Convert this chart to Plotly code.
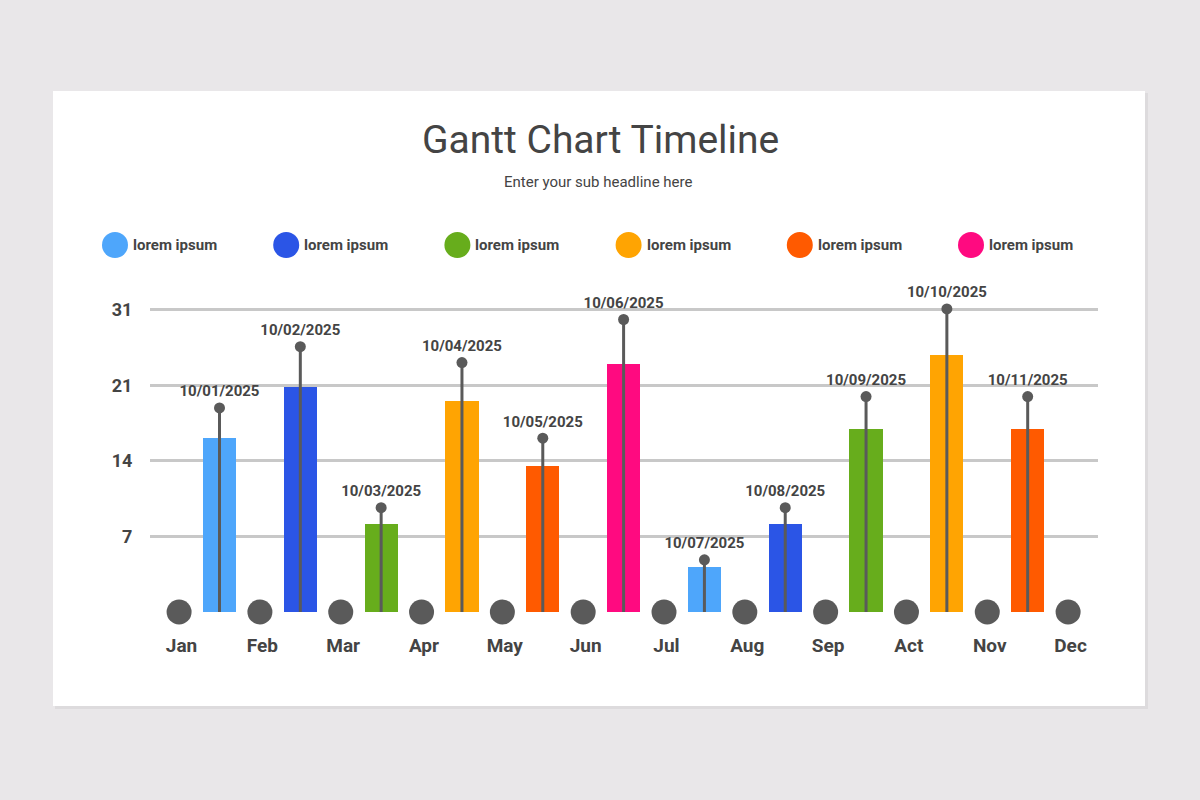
import plotly.graph_objects as go

# ---- data ----
months = ["Jan", "Feb", "Mar", "Apr", "May", "Jun", "Jul", "Aug", "Sep", "Act", "Nov", "Dec"]
y_tick_labels = ["", "7", "14", "21", "31"]
bar_values = [2.30, 2.98, 1.17, 2.79, 1.93, 3.28, 0.60, 1.17, 2.42, 3.40, 2.42]
pin_values = [2.70, 3.51, 1.38, 3.30, 2.30, 3.87, 0.69, 1.38, 2.85, 4.01, 2.85]
dates = ["10/01/2025", "10/02/2025", "10/03/2025", "10/04/2025", "10/05/2025", "10/06/2025",
         "10/07/2025", "10/08/2025", "10/09/2025", "10/10/2025", "10/11/2025"]
palette = ["#4ea6fb", "#2b55e6", "#67ad1c", "#ffa402", "#ff5a00", "#ff0a80"]
bar_colors = ["#4ea6fb", "#2b55e6", "#67ad1c", "#ffa402", "#ff5a00", "#ff0a80",
              "#4ea6fb", "#2b55e6", "#67ad1c", "#ffa402", "#ff5a00"]
legend_labels = ["lorem ipsum"] * 6
title = "Gantt Chart Timeline"
subtitle = "Enter your sub headline here"

FONT = "Roboto"
DARK = "#444444"
PIN = "#5a5a5a"
BG = "#e9e7e9"

bar_x = [i + 0.5 for i in range(len(bar_values))]
month_x = list(range(len(months)))

fig = go.Figure()

fig.add_trace(go.Bar(
    x=bar_x, y=bar_values, width=0.41,
    marker=dict(color=bar_colors, line=dict(width=0)),
    hoverinfo="skip", showlegend=False,
))

# pin stems
sx, sy = [], []
for x, v in zip(bar_x, pin_values):
    sx += [x, x, None]
    sy += [0, v, None]
fig.add_trace(go.Scatter(
    x=sx, y=sy, mode="lines", line=dict(color=PIN, width=3),
    hoverinfo="skip", showlegend=False, cliponaxis=False,
))
# pin heads + date labels
fig.add_trace(go.Scatter(
    x=bar_x, y=pin_values, mode="markers+text",
    marker=dict(color=PIN, size=11),
    text=dates, textposition="top center",
    textfont=dict(family=FONT, size=15, color=DARK, weight="bold"),
    hoverinfo="skip", showlegend=False, cliponaxis=False,
))
# month circles on the baseline
fig.add_trace(go.Scatter(
    x=month_x, y=[0] * len(months), mode="markers",
    marker=dict(color=PIN, size=25),
    hoverinfo="skip", showlegend=False, cliponaxis=False,
))

# plot area: x px 150..1098, y px 287..612
L, R, T, B = 150, 1200 - 1098, 287, 800 - 612
W, H = 1200 - L - R, 800 - T - B

def px(xp):
    return (xp - L) / W

def py(yp):
    return (800 - B - yp) / H

shapes = [
    # card shadow
    dict(type="rect", xref="paper", yref="paper", layer="below",
         x0=px(55), x1=px(1148), y0=py(93), y1=py(709),
         fillcolor="#dddbdd", line=dict(width=0)),
    dict(type="rect", xref="paper", yref="paper", layer="below",
         x0=px(53), x1=px(1145), y0=py(91), y1=py(706),
         fillcolor="#ffffff", line=dict(width=0)),
]

annotations = [
    dict(text=title, x=px(600), y=py(140), xref="paper", yref="paper",
         showarrow=False, font=dict(family=FONT, size=39, color=DARK),
         xanchor="center", yanchor="middle"),
    dict(text=subtitle, x=px(598), y=py(182), xref="paper", yref="paper",
         showarrow=False, font=dict(family=FONT, size=15, color=DARK),
         xanchor="center", yanchor="middle"),
]

# legend
for i, (c, lab) in enumerate(zip(palette, legend_labels)):
    cx = 115 + i * 171.2
    cy = 245
    r = 13
    shapes.append(dict(type="circle", xref="paper", yref="paper",
                       x0=px(cx - r), x1=px(cx + r), y0=py(cy + r), y1=py(cy - r),
                       fillcolor=c, line=dict(width=0)))
    annotations.append(dict(text=lab, x=px(cx + 16), y=py(cy), xref="paper", yref="paper",
                            showarrow=False, xanchor="left", yanchor="middle",
                            font=dict(family=FONT, size=15, color=DARK, weight="bold")))

fig.update_layout(
    width=1200, height=800,
    margin=dict(l=L, r=R, t=T, b=B),
    paper_bgcolor=BG,
    plot_bgcolor="rgba(0,0,0,0)",
    shapes=shapes, annotations=annotations,
    bargap=0, showlegend=False,
    xaxis=dict(range=[-0.36, 11.37], tickvals=[m + 0.03 for m in month_x], ticktext=months,
               showgrid=False, zeroline=False, showline=False,
               ticks="outside", ticklen=0, tickcolor="rgba(0,0,0,0)",
               ticklabelstandoff=16,
               tickfont=dict(family=FONT, size=19, color=DARK, weight="bold"),
               fixedrange=True),
    yaxis=dict(range=[0, 4.3], tickvals=[0, 1, 2, 3, 4], ticktext=y_tick_labels,
               showgrid=True, gridcolor="#c8c8c8", gridwidth=3,
               zeroline=False, showline=False,
               ticks="outside", ticklen=0, tickcolor="rgba(0,0,0,0)",
               ticklabelstandoff=13,
               tickfont=dict(family=FONT, size=18, color=DARK, weight="bold"),
               fixedrange=True),
)

fig.write_html(
    "out.html",
    config={"displayModeBar": False},
    post_script="document.body.style.margin='0';document.body.style.background='%s';"
                "document.body.style.overflow='hidden';" % BG,
)
